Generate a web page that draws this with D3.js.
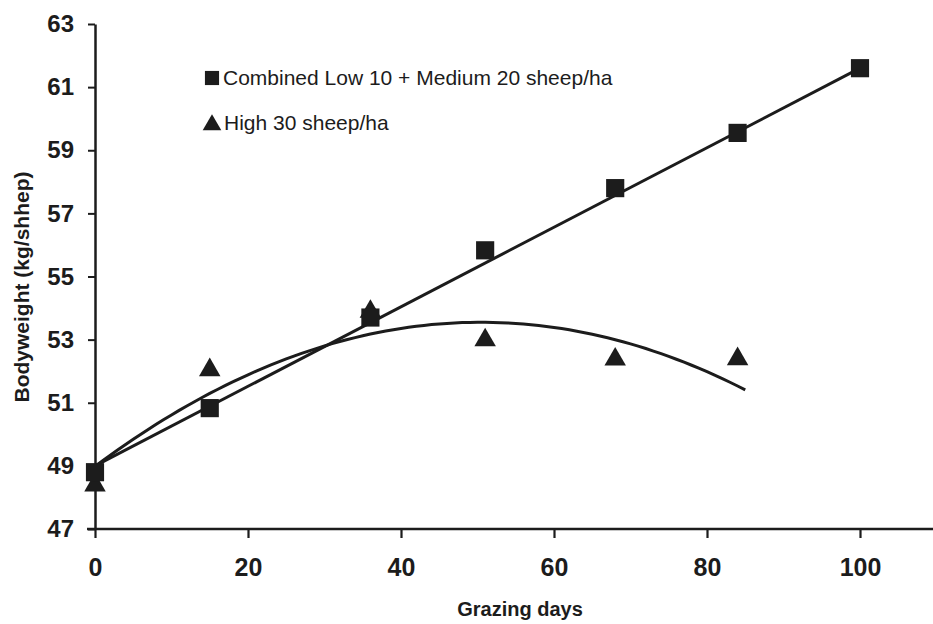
<!DOCTYPE html>
<html>
<head>
<meta charset="utf-8">
<script src="https://cdn.jsdelivr.net/npm/d3@7"></script>
<style>
  body { margin: 0; background: #fff; }
  svg { display: block; font-family: Arial, "Liberation Sans", sans-serif; }
</style>
</head>
<body>
<svg width="933" height="624"></svg>
<script>
// data
const daysCombined = [0, 15, 36, 51, 68, 84, 100];
const weightCombined = [48.8, 50.83, 53.7, 55.83, 57.8, 59.55, 61.6];

const daysHigh = [0, 15, 36, 51, 68, 84];
const weightHigh = [48.45, 52.1, 53.95, 53.05, 52.44, 52.45];

// fitted trend lines
const trendCombinedDays = [0, 100];
const trendCombinedWeight = [49.0, 61.6];
const trendHighDays = [0, 15, 36, 51, 68, 85];
const trendHighWeight = [49.0, 51.28, 53.15, 53.55, 53.05, 51.38];

const xTicks = [0, 20, 40, 60, 80, 100];
const yTicks = [47, 49, 51, 53, 55, 57, 59, 61, 63];

const legendLabels = ["Combined Low 10 + Medium 20 sheep/ha", "High 30 sheep/ha"];

const ink = "#1c1c1c";

const svg = d3.select("svg");

const x = d3.scaleLinear().domain([0, 100]).range([95, 860]);
const y = d3.scaleLinear().domain([47, 63]).range([529, 24]);

// smooth the read trend points with a 2nd order least squares, like the spreadsheet did
function quadFit(xs, ys) {
    const s = [0, 0, 0, 0, 0], t = [0, 0, 0];
    xs.forEach((xv, i) => {
        for (let k = 0; k < 5; k++) s[k] += Math.pow(xv, k);
        for (let k = 0; k < 3; k++) t[k] += Math.pow(xv, k) * ys[i];
    });
    const m = [[s[0], s[1], s[2], t[0]], [s[1], s[2], s[3], t[1]], [s[2], s[3], s[4], t[2]]];
    for (let c = 0; c < 3; c++) {
        for (let r = c + 1; r < 3; r++) {
            const f = m[r][c] / m[c][c];
            for (let k = c; k < 4; k++) m[r][k] -= f * m[c][k];
        }
    }
    const b = [0, 0, 0];
    for (let r = 2; r >= 0; r--) {
        let v = m[r][3];
        for (let k = r + 1; k < 3; k++) v -= m[r][k] * b[k];
        b[r] = v / m[r][r];
    }
    return xv => b[0] + b[1] * xv + b[2] * xv * xv;
}

// axes
const xAxis = svg.append("g")
    .attr("transform", `translate(0,${y(47)})`)
    .call(d3.axisBottom(x).tickValues(xTicks).tickSize(9).tickSizeOuter(0).tickPadding(20));
xAxis.select(".domain").remove();
xAxis.append("line")
    .attr("x1", x(0) - 8).attr("x2", 933)
    .attr("stroke", ink).attr("stroke-width", 2.5);
xAxis.selectAll(".tick line").attr("stroke", ink).attr("stroke-width", 2.2);
xAxis.selectAll(".tick text")
    .attr("fill", ink)
    .style("font-size", "25px")
    .style("font-weight", "bold");

const yAxis = svg.append("g")
    .attr("transform", `translate(${x(0)},0)`)
    .call(d3.axisLeft(y).tickValues(yTicks).tickSize(7).tickSizeOuter(0).tickPadding(14));
yAxis.select(".domain").attr("stroke", ink).attr("stroke-width", 2.5);
yAxis.selectAll(".tick line").attr("stroke", ink).attr("stroke-width", 2);
yAxis.selectAll(".tick text")
    .attr("fill", ink)
    .style("font-size", "24px")
    .style("font-weight", "bold");

// axis titles
svg.append("text")
    .attr("x", 520).attr("y", 616)
    .attr("text-anchor", "middle")
    .attr("fill", ink)
    .style("font-size", "20px").style("font-weight", "bold")
    .text("Grazing days");

svg.append("text")
    .attr("transform", "translate(29,287) rotate(-90)")
    .attr("text-anchor", "middle")
    .attr("fill", ink)
    .style("font-size", "21px").style("font-weight", "bold")
    .text("Bodyweight (kg/shhep)");

// trend lines
const line = d3.line().x(d => x(d[0])).y(d => y(d[1]));

svg.append("path")
    .datum(d3.zip(trendCombinedDays, trendCombinedWeight))
    .attr("d", line)
    .attr("fill", "none").attr("stroke", ink).attr("stroke-width", 3);

const highFit = quadFit(trendHighDays, trendHighWeight);
const highDomain = d3.extent(trendHighDays);
const highCurve = d3.range(highDomain[0], highDomain[1] + 0.01, 1).map(d => [d, highFit(d)]);

svg.append("path")
    .datum(highCurve)
    .attr("d", line)
    .attr("fill", "none").attr("stroke", ink).attr("stroke-width", 3);

// markers
const triangle = d3.symbol().type(d3.symbolTriangle).size(200);
const square = d3.symbol().type(d3.symbolSquare).size(330);

svg.append("g").selectAll("path")
    .data(d3.zip(daysHigh, weightHigh))
    .join("path")
    .attr("transform", d => `translate(${x(d[0])},${y(d[1]) + 2})`)
    .attr("d", triangle)
    .attr("fill", ink);

svg.append("g").selectAll("path")
    .data(d3.zip(daysCombined, weightCombined))
    .join("path")
    .attr("transform", d => `translate(${x(d[0])},${y(d[1])})`)
    .attr("d", square)
    .attr("fill", ink);

// legend
const legend = svg.append("g");
legend.append("path")
    .attr("transform", "translate(212,78)")
    .attr("d", d3.symbol().type(d3.symbolSquare).size(200))
    .attr("fill", ink);
legend.append("path")
    .attr("transform", "translate(212,125)")
    .attr("d", d3.symbol().type(d3.symbolTriangle).size(150))
    .attr("fill", ink);
legend.selectAll("text")
    .data(legendLabels)
    .join("text")
    .attr("x", (d, i) => i === 0 ? 223 : 224)
    .attr("y", (d, i) => 85 + i * 45)
    .attr("fill", ink)
    .style("font-size", "21px")
    .text(d => d);
</script>
</body>
</html>
